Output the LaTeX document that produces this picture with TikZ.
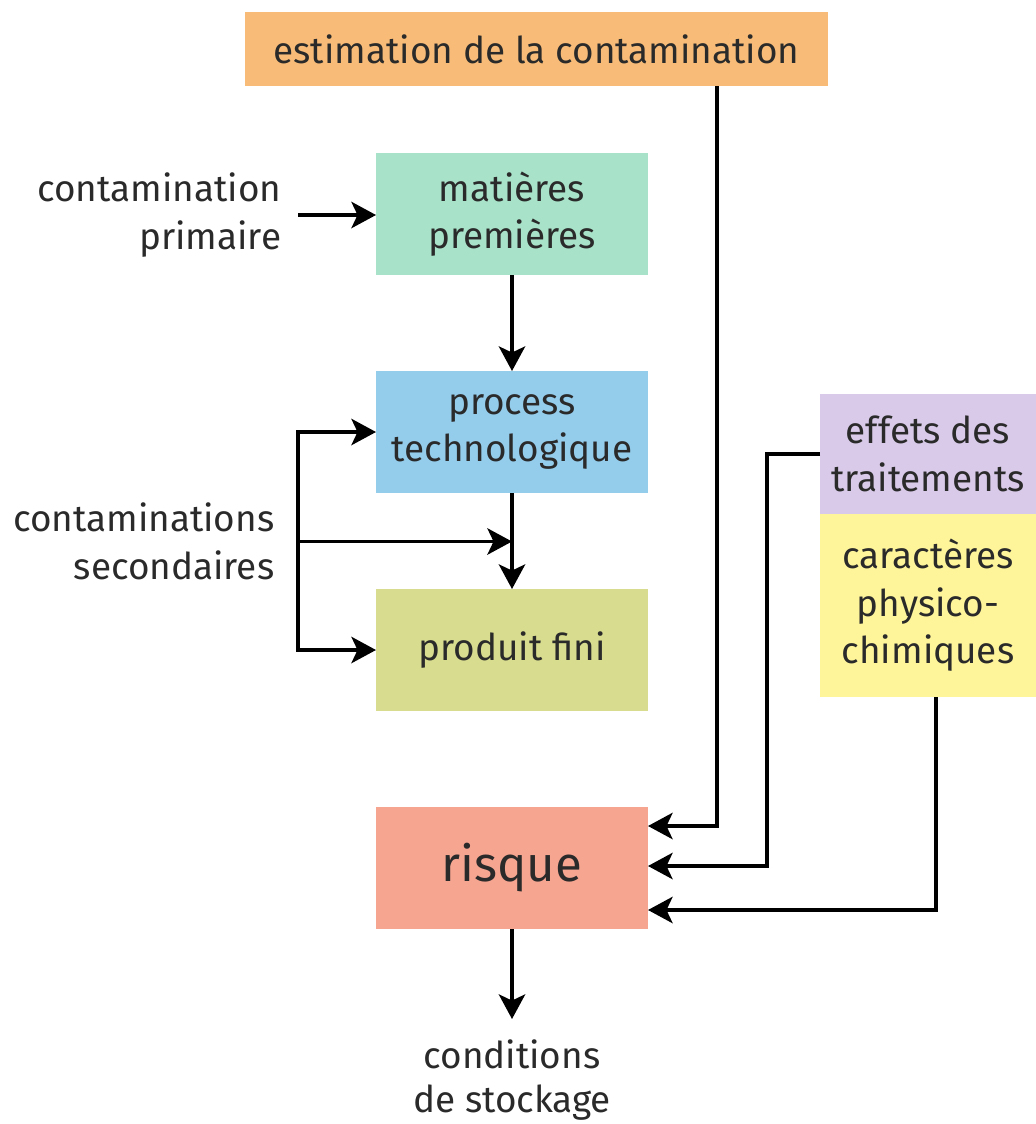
\documentclass[tikz,border=0pt]{standalone}
\usepackage{fontspec}
\setmainfont{Fira Sans}
\usetikzlibrary{arrows.meta, positioning}
\definecolor{estimfill}{HTML}{F8BC78}
\definecolor{matfill}{HTML}{A8E2C9}
\definecolor{procfill}{HTML}{94CCEB}
\definecolor{prodfill}{HTML}{D8DC8E}
\definecolor{risqfill}{HTML}{F6A591}
\definecolor{effetfill}{HTML}{D8CAE8}
\definecolor{caracfill}{HTML}{FEF59B}
\definecolor{txt}{HTML}{2A2A2A}
\begin{document}
\begin{tikzpicture}[node distance=1.92cm, >={Stealth[length=14pt,width=15pt,inset=3.5pt]},
  line width=2pt, font=\fontsize{21}{27}\selectfont, text=txt,
  box/.style={rectangle, outer sep=0pt, minimum width=5.44cm, minimum height=2.44cm, align=center},
  side/.style={rectangle, outer sep=0pt, minimum width=4.32cm, align=center, inner sep=2pt},
  lbl/.style={align=right, anchor=east, inner sep=0pt}]
\useasboundingbox (0,0) rectangle (20.72,-22.48);
\node (estim) [rectangle, outer sep=0pt, fill=estimfill, minimum width=11.66cm, minimum height=1.48cm] at (10.73,-0.98) {estimation de la contamination};
\node (mat)   [box, fill=matfill] at (10.24,-4.28) {matières\\premières};
\node (proc)  [box, fill=procfill, below=of mat] {process\\technologique};
\node (prod)  [box, fill=prodfill, below=of proc] {produit fini};
\node (risq)  [box, fill=risqfill, below=of prod, font=\fontsize{28}{32}\selectfont] {risque};
\node (cond)  [align=center, inner ysep=12pt, outer sep=0pt, below=1.8cm of risq, font=\fontsize{21}{25}\selectfont] {conditions\\de stockage};
\node (effet) [side, fill=effetfill, minimum height=2.40cm] at (18.56,-9.08) {effets des\\traitements};
\node (carac) [side, fill=caracfill, minimum height=3.66cm, below=0cm of effet] {caractères\\physico-\\chimiques};
\node (prim)  [lbl] at (5.66,-4.30) {contamination\\primaire};
\node (sec)   [lbl] at (5.52,-10.83) {contaminations\\secondaires};
\coordinate (bus) at (5.96,-10.83);
\coordinate (bend) at (15.34,-17.32);

\draw[->] ([xshift=0.3cm]prim.east) -- (prim.east -| mat.west);
\draw[->] (mat) -- (proc);
\draw[->] (proc) -- (prod);
\draw[<->] (proc.west) -| (bus) |- (prod.west);
\draw[->] (bus) -- (bus -| proc.south);
\draw[->] ([xshift=3.61cm]estim.south) |- ([yshift=0.84cm]risq.east);
\draw[->] (effet.west) -| (bend) -- (bend -| risq.east);
\draw[->] ([xshift=0.16cm]carac.south) |- ([yshift=-0.84cm]risq.east);
\draw[->] (risq) -- (cond);
\end{tikzpicture}
\end{document}
